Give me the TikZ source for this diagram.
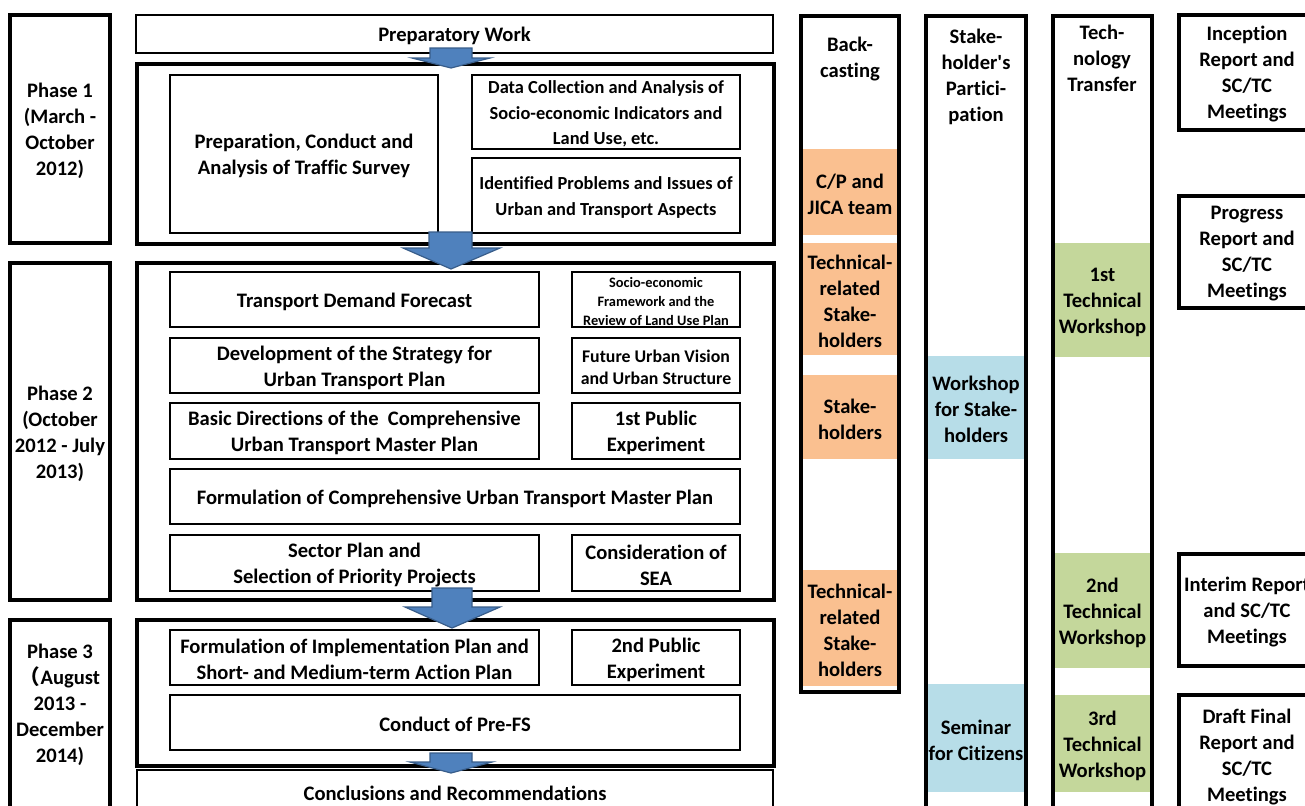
\documentclass[tikz,border=0pt]{standalone}
\usepackage{fontspec}
\setmainfont{Carlito}[Ligatures=NoCommon]
\newfontfamily\cjk{Noto Sans CJK JP}
\usetikzlibrary{fit}
\definecolor{orng}{HTML}{FAC090}
\definecolor{lblue}{HTML}{B7DDE8}
\definecolor{lgreen}{HTML}{C4D79B}
\definecolor{arrowblue}{HTML}{4F81BD}
\definecolor{arrowedge}{HTML}{385D8A}
\newcommand\blkarrow[8]{\draw[blk] (#1,#3) -- (#2,#3) -- (#2,#4) -- (#6,#4) -- (#7,#8) -- (#5,#4) -- (#1,#4) -- cycle;}
% \bx[text style]{box style}{name}{corner1}{corner2}{text}
\newcommand\bx[6][]{%
  \node[#2, fit={(#4)(#5)}] (#3) {};
  \node[base,#1] (#3-t) at (#3.center) {#6};}
\begin{document}
\begin{tikzpicture}[x=0.5pt,y=-0.5pt,
  base/.style={font=\fontsize{10.3}{13}\selectfont\bfseries, align=center, inner sep=0pt, yshift=-1pt},
  small/.style={font=\fontsize{9.2}{12.8}\selectfont\bfseries},
  tiny/.style={font=\fontsize{7.2}{9.7}\selectfont\bfseries},
  mid/.style={font=\fontsize{8.9}{11}\selectfont\bfseries},
  box/.style={draw, line width=1.1pt, fill=white, inner sep=0pt},
  outerbox/.style={draw, line width=1.9pt, inner sep=0pt},
  phasebox/.style={draw, line width=1.6pt, inner sep=0pt},
  endbox/.style={draw, line width=1.4pt, inner sep=0pt},
  colbox/.style={draw, line width=2pt, inner sep=0pt},
  band/.style={fill=#1, inner sep=0pt},
  report/.style={draw, line width=1.6pt, inner sep=0pt},
  blk/.style={fill=arrowblue, draw=arrowedge, line width=0.6pt, line join=miter}
]
\clip (0,0) rectangle (1305,805);
\fill[white] (0,0) rectangle (1305,805);

% phase labels
\bx{phasebox}{p1}{10,15}{110,243}{Phase 1\\(March -\\October\\2012)}
\bx{phasebox}{p2}{10,263}{110,600}{Phase 2\\(October\\2012 - July\\2013)}
\node[phasebox, fit={(10,620)(110,830)}] (p3) {};
\node[base] (p3t) at (60,703) {Phase 3\\{\cjk （}August\\2013 -\\December\\2014)};

% top / bottom boxes
\bx{endbox}{prep}{136,15}{773,53}{Preparatory Work}
\node[endbox, fit={(137,770)(773,813)}] (concl) {};
\node[base] (concl-t) at (455,791) {Conclusions and Recommendations};

% phase outer frames
\node[outerbox, fit={(137,64)(774,244)}] (f1) {};
\node[outerbox, fit={(137,263)(774,600)}] (f2) {};
\node[outerbox, fit={(137,620)(774,766)}] (f3) {};

% phase 1 inner
\bx{box}{pcs}{170,75}{438,233}{Preparation, Conduct and\\Analysis of Traffic Survey}
\bx[small]{box}{dc}{472,75}{740,149}{Data Collection and Analysis of\\Socio-economic Indicators and\\Land Use, etc.}
\bx[small]{box}{ip}{472,158}{740,233}{Identified Problems and Issues of\\Urban and Transport Aspects}

% phase 2 inner
\bx{box}{tdf}{170,272}{539,327}{Transport Demand Forecast}
\bx[tiny]{box}{sef}{572,272}{740,327}{Socio-economic\\Framework and the\\Review of Land Use Plan}
\bx{box}{dsu}{170,338}{539,393}{Development of the Strategy for\\Urban Transport Plan}
\bx[mid]{box}{fuv}{572,338}{740,393}{Future Urban Vision\\and Urban Structure}
\bx{box}{bdc}{170,403}{539,459}{Basic Directions of the~ Comprehensive\\Urban Transport Master Plan}
\bx{box}{pe1}{572,403}{740,459}{1st Public\\Experiment}
\bx{box}{fcu}{170,469}{740,524}{Formulation of Comprehensive Urban Transport Master Plan}
\bx{box}{spp}{170,535}{539,591}{Sector Plan and\\Selection of Priority Projects}
\bx{box}{sea}{572,535}{740,591}{Consideration of\\SEA}

% phase 3 inner
\bx{box}{fip}{170,630}{539,685}{Formulation of Implementation Plan and\\Short- and Medium-term Action Plan}
\bx{box}{pe2}{572,630}{740,685}{2nd Public\\Experiment}
\bx{box}{cpf}{170,695}{740,750}{Conduct of Pre-FS}

% block arrows
\blkarrow{430}{472}{48}{58}{412}{490}{451}{68}
\blkarrow{429}{472}{232}{248}{403}{500}{451}{269}
\blkarrow{432}{472}{588}{607}{405}{500}{452}{628}
\blkarrow{430}{472}{753}{762}{410}{492}{451}{773}

% back-casting column
\bx{band=orng}{bc1}{802,149}{898,235}{C/P and\\JICA team}
\bx{band=orng}{bc2}{802,243}{898,355}{Technical-\\related\\Stake-\\holders}
\bx{band=orng}{bc3}{802,375}{898,459}{Stake-\\holders}
\bx{band=orng}{bc4}{802,570}{898,686}{Technical-\\related\\Stake-\\holders}
\node[colbox, fit={(801,16)(899,692)}] (bc) {};
\node[base] (bct) at (850,57.5) {Back-\\casting};

% stakeholder column
\bx{band=lblue}{sp1}{927,356}{1025,459}{Workshop\\for Stake-\\holders}
\bx{band=lblue}{sp2}{927,684}{1025,792}{Seminar\\for Citizens}
\node[colbox, fit={(926,16)(1026,830)}] (sp) {};
\node[base] (spt) at (976,74.5) {Stake-\\holder\textquotesingle s\\Partici-\\pation};

% technology transfer column
\bx{band=lgreen}{tt1}{1054,243}{1151,357}{1st\\Technical\\Workshop}
\bx{band=lgreen}{tt2}{1054,553}{1151,668}{2nd\\Technical\\Workshop}
\bx{band=lgreen}{tt3}{1054,695}{1151,792}{3rd\\Technical\\Workshop}
\node[colbox, fit={(1053,16)(1152,830)}] (tt) {};
\node[base] (ttt) at (1102,56.5) {Tech-\\nology\\Transfer};

% report boxes
\bx{report}{r1}{1179,15}{1315,130}{Inception\\Report and\\SC/TC\\Meetings}
\bx{report}{r2}{1179,196}{1315,308}{Progress\\Report and\\SC/TC\\Meetings}
\bx{report}{r3}{1179,554}{1315,666}{Interim Report\\and SC/TC\\Meetings}
\bx{report}{r4}{1179,695}{1315,814}{Draft Final\\Report and\\SC/TC\\Meetings}
\end{tikzpicture}
\end{document}
